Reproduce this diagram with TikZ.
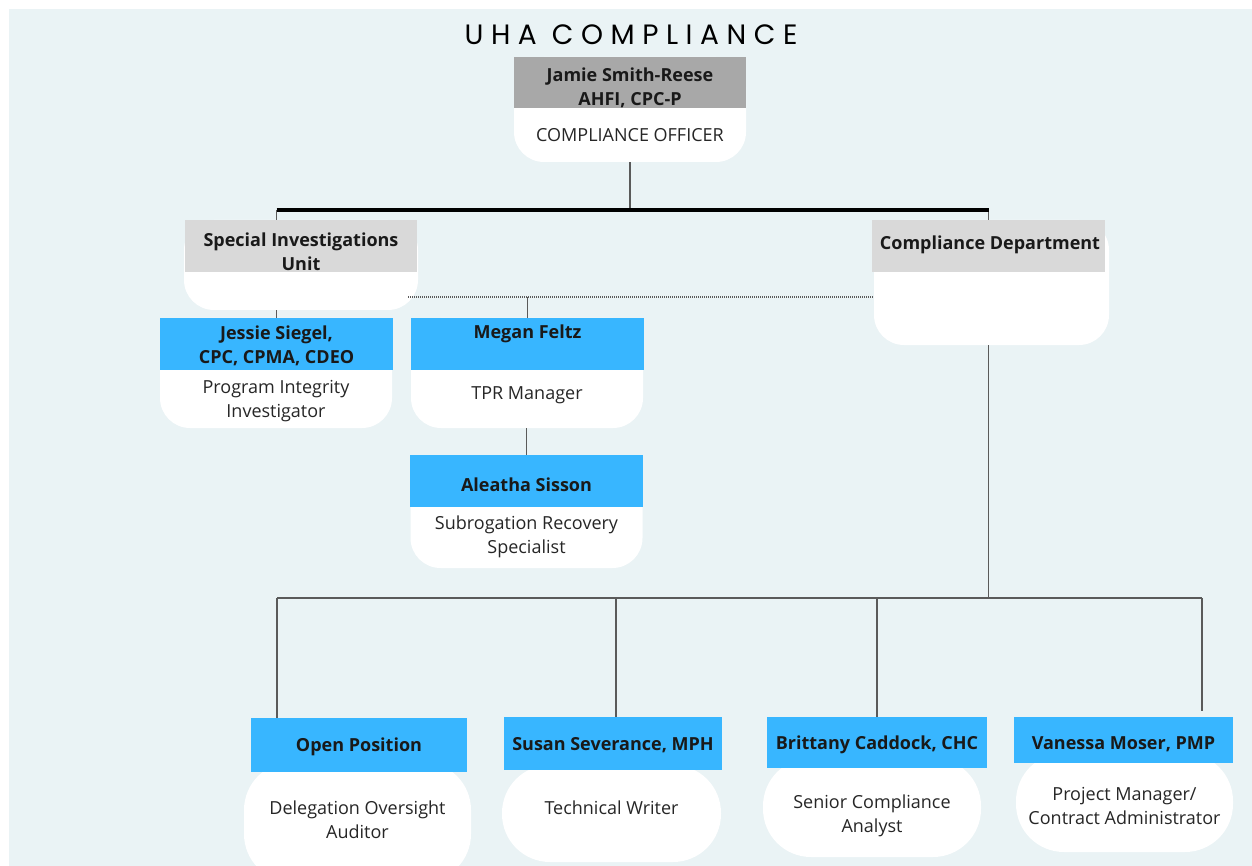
\documentclass[tikz,border=0pt]{standalone}
\usepackage{fontspec}
\setmainfont{Open Sans}
\newfontfamily\titlefont[LetterSpace=27]{Poppins}
\usetikzlibrary{positioning}
\definecolor{bgpale}{HTML}{EAF3F5}
\definecolor{chiefgray}{HTML}{A8A8A8}
\definecolor{unitgray}{HTML}{D9D9D9}
\definecolor{staffblue}{HTML}{38B6FF}
\definecolor{linegray}{HTML}{5A5A5A}
\tikzset{
  cardbody/.style={fill=white, rounded corners=30pt, inner sep=0pt},
  roundbody/.style={fill=white, rounded corners=48pt, inner sep=0pt},
  cardhead/.style={inner sep=0pt},
  nametext/.style={font=\fontsize{18}{24}\selectfont\bfseries, text=black!90, align=center, inner sep=0pt},
  roletext/.style={font=\fontsize{18}{24}\selectfont, text=black!85, align=center, inner sep=0pt},
  link/.style={draw=linegray, line width=1.6pt},
  bar/.style={draw=black, line width=4pt},
  dotlink/.style={draw=linegray, line width=1.4pt, dash pattern=on 1pt off 1pt},
}
\begin{document}
\begin{tikzpicture}[x=1pt, y=-1pt]
  \useasboundingbox (0,0) rectangle (1252,866);
  \fill[bgpale] (9,9) rectangle (1252,866);

  % title
  \node[font=\titlefont\fontsize{28}{30}\selectfont] (title) at (631,35) {UHA COMPLIANCE};

  % compliance officer
  \node[cardbody, minimum width=232pt, minimum height=105pt] (chiefB) at (630,109.5) {};
  \node[cardhead, fill=chiefgray, minimum width=232pt, minimum height=51pt] (chiefH) at (630,82.5) {};
  \node[nametext] (chiefN) at (630,88) {Jamie Smith-Reese\\AHFI, CPC-P};
  \node[roletext] (chiefR) at (630,135) {COMPLIANCE OFFICER};

  % units
  \node[cardbody, minimum width=234pt, minimum height=90pt] (siuB) at (301,265) {};
  \node[cardhead, fill=unitgray, minimum width=232pt, minimum height=52pt] (siuH) at (301,246) {};
  \node[nametext] (siuN) at (301,252) {Special Investigations\\Unit};

  \node[cardbody, minimum width=235pt, minimum height=125pt] (cdB) at (991.5,282.5) {};
  \node[cardhead, fill=unitgray, minimum width=233pt, minimum height=52pt] (cdH) at (988.5,246) {};
  \node[nametext] (cdN) at (990,245) {Compliance Department};

  % SIU staff
  \node[cardbody, minimum width=232pt, minimum height=110pt] (jesB) at (276,373) {};
  \node[cardhead, fill=staffblue, minimum width=233pt, minimum height=52pt] (jesH) at (276.5,344) {};
  \node[nametext] (jesN) at (276.5,346) {Jessie Siegel,\\CPC, CPMA, CDEO};
  \node[roletext] (jesR) at (276,401) {Program Integrity\\Investigator};

  \node[cardbody, minimum width=232pt, minimum height=110pt] (megB) at (527,373) {};
  \node[cardhead, fill=staffblue, minimum width=233pt, minimum height=52pt] (megH) at (527.5,344) {};
  \node[nametext] (megN) at (527.5,334) {Megan Feltz};
  \node[roletext] (megR) at (527,395) {TPR Manager};

  \node[cardbody, minimum width=232pt, minimum height=113pt] (aleB) at (526.5,511.5) {};
  \node[cardhead, fill=staffblue, minimum width=233pt, minimum height=52pt] (aleH) at (526.5,481) {};
  \node[nametext] (aleN) at (526.5,485) {Aleatha Sisson};
  \node[roletext] (aleR) at (526.5,536.5) {Subrogation Recovery\\Specialist};

  % compliance department staff
  \node[roundbody, minimum width=227pt, minimum height=120pt] (opB) at (357.5,822) {};
  \node[cardhead, fill=staffblue, minimum width=216pt, minimum height=54pt] (opH) at (359,745) {};
  \node[nametext] (opN) at (359,747) {Open Position};
  \node[roletext] (opR) at (357.5,820) {Delegation Oversight\\Auditor};

  \node[roundbody, minimum width=219pt, minimum height=97pt] (suB) at (611.5,813.5) {};
  \node[cardhead, fill=staffblue, minimum width=218pt, minimum height=53pt] (suH) at (613,743.5) {};
  \node[nametext] (suN) at (613,745) {Susan Severance, MPH};
  \node[roletext] (suR) at (611.5,808) {Technical Writer};

  \node[roundbody, minimum width=218pt, minimum height=99pt] (brB) at (872,807.5) {};
  \node[cardhead, fill=staffblue, minimum width=220pt, minimum height=51pt] (brH) at (877,742.5) {};
  \node[nametext] (brN) at (877,745) {Brittany Caddock, CHC};
  \node[roletext] (brR) at (872,816) {Senior Compliance\\Analyst};

  \node[roundbody, minimum width=217pt, minimum height=99pt] (vaB) at (1124.5,802.5) {};
  \node[cardhead, fill=staffblue, minimum width=219pt, minimum height=46pt] (vaH) at (1123.5,740) {};
  \node[nametext] (vaN) at (1123.5,744) {Vanessa Moser, PMP};
  \node[roletext] (vaR) at (1124.5,806) {Project Manager/\\Contract Administrator};

  % connectors
  \coordinate (barmid) at (630,210);
  \coordinate (dotL) at (408,297);
  \coordinate (dropA) at (277,598);
  \coordinate (dropB) at (616,598);
  \coordinate (dropC) at (877,598);
  \coordinate (dropD) at (1202,598);
  \coordinate (dropDend) at (1202,711);

  \draw[link] (chiefB.south) -- (barmid);
  \draw[link] (jesH.north |- barmid) -- (jesH.north |- siuH.north);
  \draw[link] (cdH.north |- barmid) -- (cdH.north);
  \draw[bar] (jesH.north |- barmid) -- (cdH.north |- barmid);
  \draw[dotlink] (dotL) -- (cdB.west |- dotL);
  \draw[link] (megH.north |- dotL) -- (megH.north);
  \draw[link] (jesH.north |- siuB.south) -- (jesH.north);
  \draw[link] (aleH.north |- megB.south) -- (aleH.north);
  \draw[link] (cdH.south |- cdB.south) -- (cdH.south |- dropD);
  \draw[link] (dropA) -- (dropD);
  \draw[link] (dropA) -- (dropA |- opH.north);
  \draw[link] (dropB) -- (dropB |- suH.north);
  \draw[link] (dropC) -- (dropC |- brH.north);
  \draw[link] (dropD) -- (dropDend);
\end{tikzpicture}
\end{document}
